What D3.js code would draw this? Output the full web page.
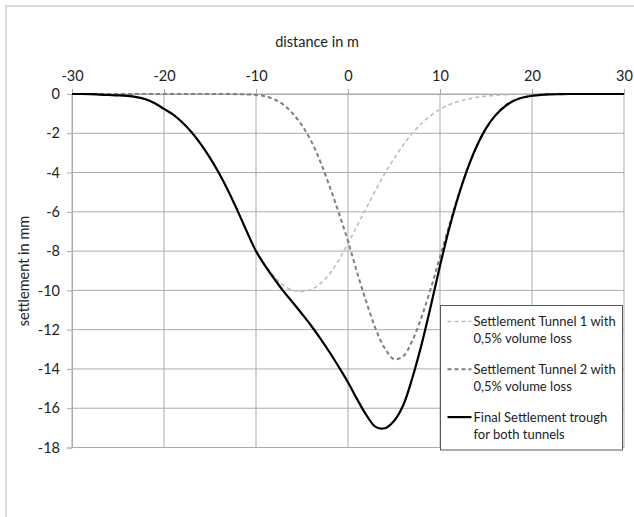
<!DOCTYPE html>
<html>
<head>
<meta charset="utf-8">
<script src="https://cdn.jsdelivr.net/npm/d3@7"></script>
<style>
  body { margin: 0; background: #fff; }
  text { font-family: Lato, "Open Sans", sans-serif; fill: #222; }
</style>
</head>
<body>
<script>
const width = 634, height = 517
const margin = {top: 94, right: 10, bottom: 69.5, left: 72}

// distance in m
const distance = [-30, -29, -28, -27, -26, -25, -24, -23, -22, -21, -20, -19, -18, -17, -16, -15, -14, -13, -12, -11,
    -10, -9, -8, -7, -6, -5, -4, -3, -2, -1, 0, 1, 2, 3, 4, 5, 6, 7, 8, 9,
    10, 11, 12, 13, 14, 15, 16, 17, 18, 19, 20, 21, 22, 23, 24, 25, 26, 27, 28, 29, 30]

// settlement in mm
const tunnel1 = [0, 0, -0.01, -0.02, -0.04, -0.07, -0.1, -0.16, -0.27, -0.47, -0.76, -1.05, -1.45, -1.95, -2.55, -3.25, -4.05, -4.95, -5.95, -7.0,
    -7.95, -8.7, -9.3, -9.75, -10.0, -10.05, -9.95, -9.65, -9.15, -8.45, -7.6, -6.7, -5.8, -4.9, -4.05, -3.3, -2.6, -2.0, -1.5, -1.1,
    -0.78, -0.55, -0.38, -0.26, -0.17, -0.11, -0.07, -0.04, -0.02, -0.01, 0, 0, 0, 0, 0, 0, 0, 0, 0, 0, 0]
const tunnel2 = [0, 0, 0, 0, 0, 0, 0, 0, 0, 0, 0, 0, 0, 0, 0, 0, 0, 0, -0.01, -0.02,
    -0.05, -0.12, -0.28, -0.55, -1.0, -1.6, -2.4, -3.45, -4.7, -6.05, -7.5, -9.1, -10.6, -11.95, -12.95, -13.5, -13.35, -12.55, -11.35, -9.9,
    -8.3, -6.7, -5.15, -3.8, -2.65, -1.75, -1.1, -0.62, -0.33, -0.17, -0.08, -0.03, -0.01, 0, 0, 0, 0, 0, 0, 0, 0]
const final = [0, 0, -0.01, -0.03, -0.05, -0.07, -0.1, -0.16, -0.27, -0.47, -0.76, -1.05, -1.45, -1.95, -2.55, -3.25, -4.05, -4.95, -5.95, -7.0,
    -8.0, -8.75, -9.42, -10.05, -10.62, -11.2, -11.8, -12.45, -13.15, -13.9, -14.68, -15.55, -16.35, -16.95, -17.02, -16.65, -15.85, -14.45, -12.75, -10.8,
    -8.75, -6.85, -5.2, -3.8, -2.65, -1.75, -1.1, -0.65, -0.35, -0.18, -0.09, -0.04, -0.02, -0.01, 0, 0, 0, 0, 0, 0, 0]

const xTicks = [-30, -20, -10, 0, 10, 20, 30]
const yTicks = [0, -2, -4, -6, -8, -10, -12, -14, -16, -18]

const series = [
    {name: ["Settlement Tunnel 1 with", "0,5% volume loss"], values: tunnel1, color: "#bdbdbd", w: 1.6, dash: "4,3"},
    {name: ["Settlement Tunnel 2 with", "0,5% volume loss"], values: tunnel2, color: "#7f7f7f", w: 2, dash: "4,3"},
    {name: ["Final Settlement trough", "for both tunnels"], values: final, color: "#000", w: 2.2, dash: null}
]

const svg = d3.select("body").append("svg")
    .attr("width", width)
    .attr("height", height)

// outer chart border
svg.append("rect")
    .attr("x", 6).attr("y", 6)
    .attr("width", 700).attr("height", 600)
    .attr("fill", "none").attr("stroke", "#d0d0d0").attr("stroke-width", 1.5)

const ih = height - margin.top - margin.bottom

const x = d3.scaleLinear().domain([-30, 30]).range([0, 552])
const y = d3.scaleLinear().domain([0, -18]).range([0, ih])

const g = svg.append("g").attr("transform", `translate(${margin.left},${margin.top})`)

// grid
g.append("g").selectAll("line").data(xTicks).enter().append("line")
    .attr("x1", d => x(d)).attr("x2", d => x(d))
    .attr("y1", 0).attr("y2", ih)
    .attr("stroke", "#ababab")
g.append("g").selectAll("line").data(yTicks).enter().append("line")
    .attr("x1", 0).attr("x2", x(30))
    .attr("y1", d => y(d)).attr("y2", d => y(d))
    .attr("stroke", "#ababab")

// axes
const xAxis = g.append("g")
    .call(d3.axisTop(x).tickValues(xTicks).tickSize(5).tickPadding(8))
const yAxis = g.append("g")
    .call(d3.axisLeft(y).tickValues(yTicks).tickSize(5).tickPadding(7))
for (const a of [xAxis, yAxis]) {
    a.select(".domain").attr("stroke", "#ababab")
    a.selectAll(".tick line").attr("stroke", "#ababab")
    a.selectAll(".tick text")
        .style("font-family", "Lato, sans-serif").style("font-size", "14.5px").attr("fill", "#222")
        .text(d => String(d))
}

// axis titles
svg.append("text")
    .attr("x", 317).attr("y", 47)
    .attr("text-anchor", "middle")
    .style("font-size", "14.5px")
    .text("distance in m")
svg.append("text")
    .attr("transform", `translate(29,271) rotate(-90)`)
    .attr("text-anchor", "middle")
    .style("font-size", "14.5px")
    .text("settlement in mm")

// lines
const line = d3.line()
    .x((d, i) => x(distance[i]))
    .y(d => y(d))
    .curve(d3.curveCatmullRom.alpha(0.5))

g.selectAll(".series").data(series).enter().append("path")
    .attr("class", "series")
    .attr("d", d => line(d.values))
    .attr("fill", "none")
    .attr("stroke", d => d.color)
    .attr("stroke-width", d => d.w)
    .attr("stroke-dasharray", d => d.dash)

// legend
const lg = svg.append("g").attr("transform", "translate(440.5,305.5)")
lg.append("rect")
    .attr("width", 182).attr("height", 144.5)
    .attr("fill", "#fff").attr("stroke", "#595959")

const item = lg.selectAll(".item").data(series).enter().append("g")
    .attr("class", "item")
    .attr("transform", (d, i) => `translate(0,${16 + i * 47.8})`)
item.append("line")
    .attr("x1", 7).attr("x2", 31)
    .attr("stroke", d => d.color)
    .attr("stroke-width", d => d.w)
    .attr("stroke-dasharray", d => d.dash)
item.selectAll("text").data(d => d.name).enter().append("text")
    .attr("x", 33)
    .attr("y", (d, i) => i * 17)
    .attr("dy", "0.35em")
    .style("font-size", "13px")
    .text(d => d)
</script>
</body>
</html>
